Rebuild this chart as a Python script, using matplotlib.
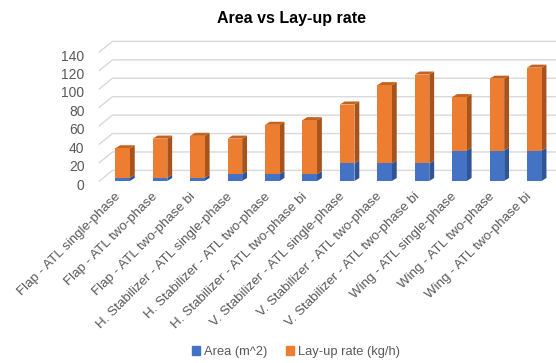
import matplotlib.pyplot as plt
from matplotlib.patches import Polygon
from matplotlib.transforms import ScaledTranslation

plt.rc('font', family=['Liberation Sans', 'DejaVu Sans'])

# data
configs = ['Flap - ATL single-phase', 'Flap - ATL two-phase', 'Flap - ATL two-phase bi',
           'H. Stabilizer - ATL single-phase', 'H. Stabilizer - ATL two-phase',
           'H. Stabilizer - ATL two-phase bi', 'V. Stabilizer - ATL single-phase',
           'V. Stabilizer - ATL two-phase', 'V. Stabilizer - ATL two-phase bi',
           'Wing - ATL single-phase', 'Wing - ATL two-phase', 'Wing - ATL two-phase bi']
area = [3.5, 3.5, 3.5, 7.5, 7.5, 7.5, 19, 19, 19, 33, 33, 33]
layup = [32, 42.5, 45.5, 38.5, 53.5, 58.5, 64, 85, 96.5, 58, 78, 90]
yticks = [0, 20, 40, 60, 80, 100, 120, 140]

blue, blue_side = '#4472c4', '#2f5597'
orange, orange_side, orange_top = '#ed7d31', '#a9531c', '#c4621f'
grey = '#595959'

fig = plt.figure(figsize=(5.56, 3.63), dpi=100)
ax = fig.add_axes([0.1868, 1 - 181 / 363, 1 - 0.1868, (181 - 52) / 363])
ax.set_xlim(-0.5, 11.58)
ax.set_ylim(0, 140)

w = 0.39
dx, dy = 0.13, 3.3      # bar depth (data units)
gdx, gdy = 0.35, 11.5   # back wall depth for gridlines

# back wall gridlines with the slanted lead-in on the left
for v in yticks:
    ax.plot([-0.62, -0.62 + gdx, 11.58], [v, v + gdy, v + gdy], color='#d9d9d9',
            lw=1, zorder=0, clip_on=False)

x = list(range(len(configs)))
ax.bar(x, area, width=w, color=blue, zorder=3)
ax.bar(x, layup, width=w, bottom=area, color=orange, zorder=3)

# pseudo 3d side and top faces
for i in x:
    x1 = i + w / 2
    x0 = i - w / 2
    top = area[i] + layup[i]
    ax.add_patch(Polygon([(x1, 0), (x1 + dx, dy), (x1 + dx, area[i] + dy), (x1, area[i])],
                         closed=True, color=blue_side, zorder=2, lw=0))
    ax.add_patch(Polygon([(x1, area[i]), (x1 + dx, area[i] + dy), (x1 + dx, top + dy), (x1, top)],
                         closed=True, color=orange_side, zorder=2, lw=0))
    ax.add_patch(Polygon([(x0, top), (x0 + dx, top + dy), (x1 + dx, top + dy), (x1, top)],
                         closed=True, color=orange_top, zorder=2, lw=0))

ax.set_yticks(yticks)
ax.set_xticks(x)
ax.set_xticklabels(configs, rotation=45, ha='right')
ax.tick_params(axis='both', length=0, colors=grey, labelsize=10)
ax.tick_params(axis='x', pad=7, labelsize=9.6)
ax.tick_params(axis='y', pad=14)
off = ScaledTranslation(0, -3 / 100, fig.dpi_scale_trans)
for lab in ax.get_yticklabels():
    lab.set_transform(lab.get_transform() + off)
for s in ax.spines.values():
    s.set_visible(False)

fig.text(0.525, 1 - 18 / 363, 'Area vs Lay-up rate', ha='center', va='center',
         fontsize=11.5, fontweight='bold', color='black')

handles = [plt.Rectangle((0, 0), 1, 1, color=blue), plt.Rectangle((0, 0), 1, 1, color=orange)]
fig.legend(handles, ['Area (m^2)', 'Lay-up rate (kg/h)'], loc='center',
           bbox_to_anchor=(296 / 556, 1 - 352 / 363), ncol=2, frameon=False,
           fontsize=9.3, handlelength=0.6, handleheight=0.6, handletextpad=0.3,
           columnspacing=1.5, labelcolor=grey)

fig.savefig('out.png', dpi=100, facecolor='white')
